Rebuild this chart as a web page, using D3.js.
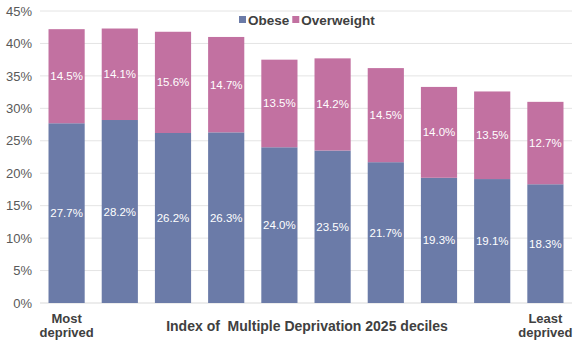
<!DOCTYPE html>
<html>
<head>
<meta charset="utf-8">
<script src="https://cdn.jsdelivr.net/npm/d3@7"></script>
<style>
  body { margin: 0; background: #fff; }
  text { font-family: "Liberation Sans", Arial, sans-serif; }
</style>
</head>
<body>
<div id="chart"></div>
<script>
// deciles, most deprived -> least deprived
var deciles = ["1", "2", "3", "4", "5", "6", "7", "8", "9", "10"];
var obese = [27.7, 28.2, 26.2, 26.3, 24.0, 23.5, 21.7, 19.3, 19.1, 18.3];
var overweight = [14.5, 14.1, 15.6, 14.7, 13.5, 14.2, 14.5, 14.0, 13.5, 12.7];
var yTicks = [0, 5, 10, 15, 20, 25, 30, 35, 40, 45];
var seriesNames = ["Obese", "Overweight"];

var fullWidth = 576, fullHeight = 342;
var margin = {top: 11, right: 4, bottom: 39, left: 40};
var width = fullWidth - margin.left - margin.right;
var height = fullHeight - margin.top - margin.bottom;

var colors = {Obese: "#6b7ba8", Overweight: "#c271a1"};

var data = deciles.map(function(d, i) {
    return {decile: d, Obese: obese[i], Overweight: overweight[i]};
});

var svg = d3.select("#chart").append("svg")
    .attr("width", fullWidth)
    .attr("height", fullHeight)
  .append("g")
    .attr("transform", "translate(" + margin.left + "," + margin.top + ")");

var x = d3.scaleBand()
    .domain(deciles)
    .range([0, width])
    .paddingInner(0.32)
    .paddingOuter(0.16);

var y = d3.scaleLinear()
    .domain([0, 45])
    .range([height, 0]);

// gridlines
svg.append("g")
    .selectAll("line")
    .data(yTicks)
  .enter().append("line")
    .attr("x1", 0)
    .attr("x2", width)
    .attr("y1", function(d) { return y(d); })
    .attr("y2", function(d) { return y(d); })
    .attr("stroke", function(d) { return d === 0 ? "#d9d9d9" : "#e4e4e4"; })
    .attr("stroke-width", 1);

// y axis labels
var yAxis = d3.axisLeft(y).tickValues(yTicks).tickSize(0).tickPadding(8)
    .tickFormat(function(d) { return d + "%"; });
var yAxisEle = svg.append("g").call(yAxis);
yAxisEle.select(".domain").remove();
yAxisEle.selectAll("text")
    .style("font-size", "13px")
    .attr("fill", "#595959");

// stacked bars
var stack = d3.stack().keys(seriesNames)(data);

var layers = svg.selectAll("g.layer")
    .data(stack)
  .enter().append("g")
    .attr("class", "layer")
    .attr("fill", function(d) { return colors[d.key]; });

layers.selectAll("rect")
    .data(function(d) { return d; })
  .enter().append("rect")
    .attr("x", function(d) { return x(d.data.decile); })
    .attr("width", x.bandwidth())
    .attr("y", function(d) { return y(d[1]); })
    .attr("height", function(d) { return y(d[0]) - y(d[1]); });

layers.selectAll("text")
    .data(function(d) { return d.map(function(p) { return {p: p, key: d.key}; }); })
  .enter().append("text")
    .attr("x", function(d) { return x(d.p.data.decile) + x.bandwidth() / 2; })
    .attr("y", function(d) { return y((d.p[0] + d.p[1]) / 2); })
    .attr("dy", "0.35em")
    .attr("text-anchor", "middle")
    .attr("fill", "#ffffff")
    .style("font-size", "11.5px")
    .text(function(d) { return d.p.data[d.key].toFixed(1) + "%"; });

// legend
var legend = svg.append("g")
    .attr("transform", "translate(199," + (20 - margin.top) + ")");
var lx = 0;
seriesNames.forEach(function(name) {
    legend.append("rect")
        .attr("x", lx)
        .attr("y", -4)
        .attr("width", 7)
        .attr("height", 7)
        .attr("fill", colors[name]);
    var t = legend.append("text")
        .attr("x", lx + 9)
        .attr("y", 0)
        .attr("dy", "0.35em")
        .attr("fill", "#404040")
        .style("font-size", "13.5px")
        .style("font-weight", "bold")
        .text(name);
    lx += 9 + t.node().getComputedTextLength() + 3;
});

// x axis labels
function twoLine(cx, lines) {
    var t = svg.append("text")
        .attr("x", cx)
        .attr("y", height + 20)
        .attr("text-anchor", "middle")
        .attr("fill", "#404040")
        .style("font-size", "13px")
        .style("font-weight", "bold");
    lines.forEach(function(l, i) {
        t.append("tspan").attr("x", cx).attr("dy", i === 0 ? 0 : 14).text(l);
    });
}
twoLine(x(deciles[0]) + x.bandwidth() / 2, ["Most", "deprived"]);
twoLine(x(deciles[9]) + x.bandwidth() / 2, ["Least", "deprived"]);

svg.append("text")
    .attr("x", width / 2 + 1)
    .attr("y", height + 28)
    .attr("text-anchor", "middle")
    .attr("fill", "#404040")
    .style("font-size", "14px")
    .style("font-weight", "bold")
    .style("white-space", "pre")
    .text("Index of  Multiple Deprivation 2025 deciles");
</script>
</body>
</html>
